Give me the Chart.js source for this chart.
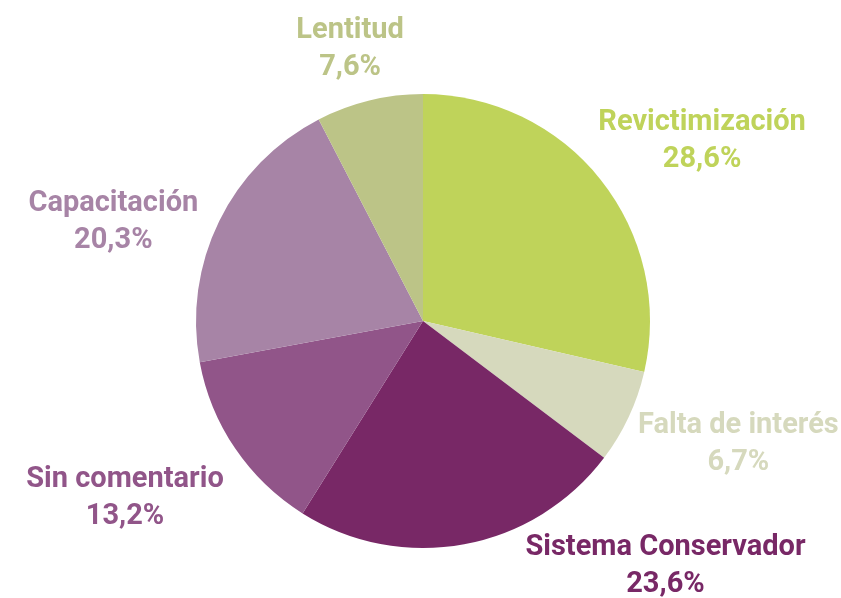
<!DOCTYPE html>
<html>
<head>
<meta charset="utf-8">
<script src="https://cdn.jsdelivr.net/npm/chart.js@4"></script>
<style>
  html, body { margin: 0; padding: 0; background: #fff; }
  #wrap { width: 841px; height: 598px; }
</style>
</head>
<body>
<div id="wrap"><canvas id="pieChart"></canvas></div>
<script>
const categories = ["Revictimización", "Falta de interés", "Sistema Conservador", "Sin comentario", "Capacitación", "Lentitud"];
const shares = [28.6, 6.7, 23.6, 13.2, 20.3, 7.6];
const sliceColors = ["#bfd35a", "#d6d9bd", "#782866", "#915589", "#a784a6", "#bcc487"];

// nudges from the radial anchor point, per label
const labelNudge = [[18, 29], [13, -17], [182, -82], [-22, -10], [-10, 49], [6, 53]];

const outsideLabels = {
    id: "outsideLabels",
    afterDatasetsDraw(chart) {
        const ctx = chart.ctx;
        const arcs = chart.getDatasetMeta(0).data;
        ctx.save();
        ctx.font = "bold 29px Roboto";
        ctx.textAlign = "center";
        ctx.textBaseline = "middle";
        arcs.forEach((arc, i) => {
            const mid = (arc.startAngle + arc.endAngle) / 2;
            const dist = arc.outerRadius * 1.47;
            const x = arc.x + Math.cos(mid) * dist + labelNudge[i][0];
            const y = arc.y + Math.sin(mid) * dist + labelNudge[i][1];
            ctx.fillStyle = sliceColors[i];
            ctx.fillText(categories[i], x, y - 19);
            ctx.fillText(shares[i].toFixed(1).replace(".", ",") + "%", x, y + 18);
        });
        ctx.restore();
    }
};

const ctx = document.getElementById("pieChart").getContext("2d");
new Chart(ctx, {
    type: "pie",
    data: {
        labels: categories,
        datasets: [{
            data: shares,
            backgroundColor: sliceColors,
            borderWidth: 0
        }]
    },
    options: {
        responsive: true,
        maintainAspectRatio: false,
        animation: false,
        layout: { padding: { top: 94, bottom: 50, left: 150, right: 145 } },
        plugins: {
            legend: { display: false },
            tooltip: { enabled: false }
        }
    },
    plugins: [outsideLabels]
});
</script>
</body>
</html>
